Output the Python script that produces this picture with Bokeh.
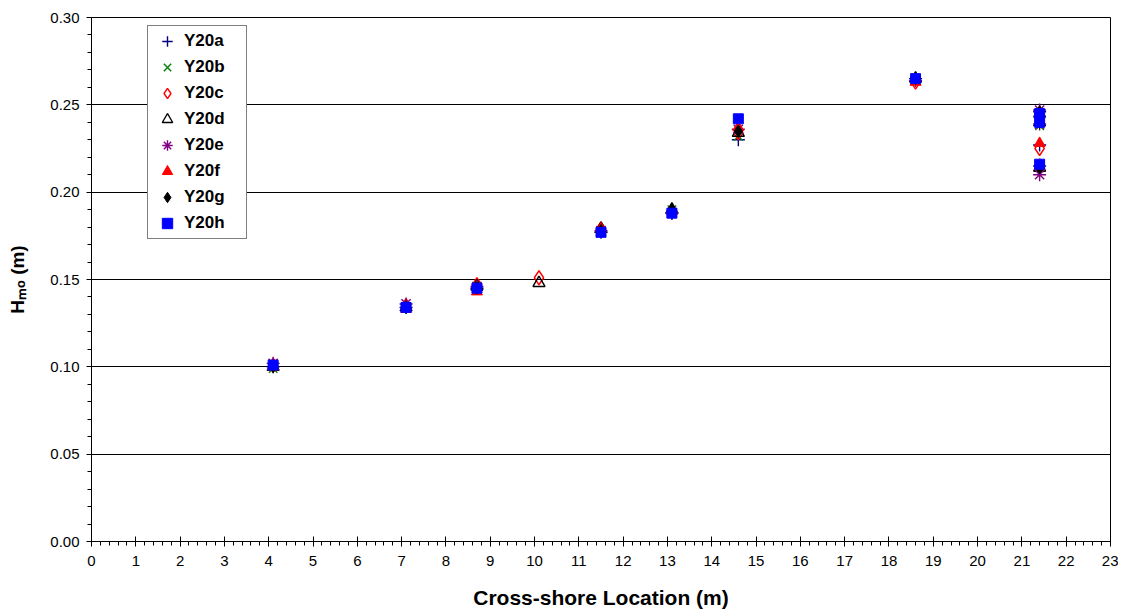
from bokeh.plotting import figure
from bokeh.models import (ColumnDataSource, Legend, LegendItem, FixedTicker,
                          Range1d, PrintfTickFormatter)
from bokeh.embed import file_html
from bokeh.resources import INLINE

nan = float("nan")

# cross-shore gauge locations (m)
x_loc = [4.1, 7.1, 8.7, 10.1, 11.5, 13.1, 14.6, 18.6, 21.4, 21.4, 21.4]

# Hmo (m) per run
Y20a = [0.100, 0.134, 0.145, nan, 0.177, 0.188, 0.230, 0.265, 0.246, 0.227, 0.215]
Y20b = [0.099, 0.134, 0.146, nan, 0.178, 0.190, 0.232, 0.265, 0.245, 0.238, 0.214]
Y20c = [0.101, 0.135, 0.147, 0.151, 0.179, 0.189, 0.234, 0.263, 0.244, 0.225, 0.215]
Y20d = [0.100, 0.134, 0.146, 0.148, 0.179, 0.190, 0.234, 0.265, 0.245, 0.240, 0.214]
Y20e = [0.102, 0.136, 0.146, nan, 0.178, 0.188, 0.236, 0.264, 0.247, 0.239, 0.210]
Y20f = [0.100, 0.133, 0.143, nan, 0.179, 0.189, 0.237, 0.263, 0.245, 0.228, 0.215]
Y20g = [0.100, 0.134, 0.145, nan, 0.178, 0.190, 0.235, 0.265, 0.246, 0.240, 0.214]
Y20h = [0.101, 0.134, 0.145, nan, 0.177, 0.188, 0.242, 0.265, 0.245, 0.240, 0.216]

series_names = ["Y20a", "Y20b", "Y20c", "Y20d", "Y20e", "Y20f", "Y20g", "Y20h"]
series_values = [Y20a, Y20b, Y20c, Y20d, Y20e, Y20f, Y20g, Y20h]

x_ticks = list(range(0, 24))
x_minor = [i / 5 for i in range(0, 23 * 5 + 1)]
y_ticks = [0.00, 0.05, 0.10, 0.15, 0.20, 0.25, 0.30]
y_minor = [i / 100 for i in range(0, 31)]

styles = {
    "Y20a": dict(marker="cross", size=13, line_color="#000080", fill_color=None, line_width=1.4),
    "Y20b": dict(marker="x", size=12, line_color="#008000", fill_color=None, line_width=1.4),
    "Y20c": dict(marker="diamond", size=14, line_color="#FF0000", fill_color=None, line_width=1.4),
    "Y20d": dict(marker="triangle", size=12, line_color="#000000", fill_color=None, line_width=1.4),
    "Y20e": dict(marker="asterisk", size=13, line_color="#800080", fill_color=None, line_width=1.4),
    "Y20f": dict(marker="triangle", size=11, line_color="#FF0000", fill_color="#FF0000", line_width=1),
    "Y20g": dict(marker="diamond", size=12, line_color="#000000", fill_color="#000000", line_width=1),
    "Y20h": dict(marker="square", size=10, line_color="#0000FF", fill_color="#0000FF", line_width=1),
}

FONT = "Liberation Sans"

p = figure(width=1118, height=613, output_backend="svg", toolbar_location=None,
           x_range=Range1d(0, 23), y_range=Range1d(0, 0.30),
           min_border_left=91, min_border_right=8, min_border_top=17, min_border_bottom=72,
           background_fill_color="white", border_fill_color="white")

p.outline_line_color = "black"
p.outline_line_width = 1
p.outline_line_alpha = 1

p.xaxis.ticker = FixedTicker(ticks=x_ticks, minor_ticks=x_minor)
p.yaxis.ticker = FixedTicker(ticks=y_ticks, minor_ticks=y_minor)
p.yaxis.formatter = PrintfTickFormatter(format="%.2f")

for ax in (p.xaxis, p.yaxis):
    ax.axis_line_color = "black"
    ax.major_tick_line_color = "black"
    ax.minor_tick_line_color = "black"
    ax.major_tick_in = 5
    ax.major_tick_out = 5
    ax.minor_tick_in = 0
    ax.minor_tick_out = 4
    ax.major_label_text_font = FONT
    ax.major_label_text_font_size = "15px"
    ax.major_label_text_color = "black"
    ax.axis_label_text_font = FONT
    ax.axis_label_text_font_style = "bold"
    ax.axis_label_text_color = "black"

p.xaxis.major_label_standoff = 9
p.yaxis.major_label_standoff = 7

p.xaxis.axis_label = "Cross-shore Location (m)"
p.xaxis.axis_label_text_font_size = "21px"
p.xaxis.axis_label_standoff = 17

p.yaxis.axis_label = "H\u2098\u2092 (m)"
p.yaxis.axis_label_text_font_size = "19px"
p.yaxis.axis_label_standoff = 19

p.xgrid.grid_line_color = None
p.ygrid.ticker = FixedTicker(ticks=y_ticks)
p.ygrid.grid_line_color = "black"
p.ygrid.grid_line_alpha = 1
p.ygrid.grid_line_width = 1

items = []
for name, vals in zip(series_names, series_values):
    src = ColumnDataSource(dict(x=x_loc, y=vals))
    st = styles[name]
    r = p.scatter("x", "y", source=src, marker=st["marker"], size=st["size"],
                  line_color=st["line_color"], fill_color=st["fill_color"],
                  line_width=st["line_width"])
    items.append(LegendItem(label=name, renderers=[r]))

legend = Legend(items=items, location=(56, 302), orientation="vertical",
                padding=2, spacing=0, label_height=26, glyph_height=26, glyph_width=34,
                label_standoff=0, label_width=60,
                label_text_font=FONT, label_text_font_style="bold",
                label_text_font_size="17px", label_text_color="black",
                border_line_color="black", border_line_width=1,
                background_fill_color="white", background_fill_alpha=1,
                margin=0)
p.add_layout(legend, "center")

open("out.html", "w").write(file_html(p, INLINE))
